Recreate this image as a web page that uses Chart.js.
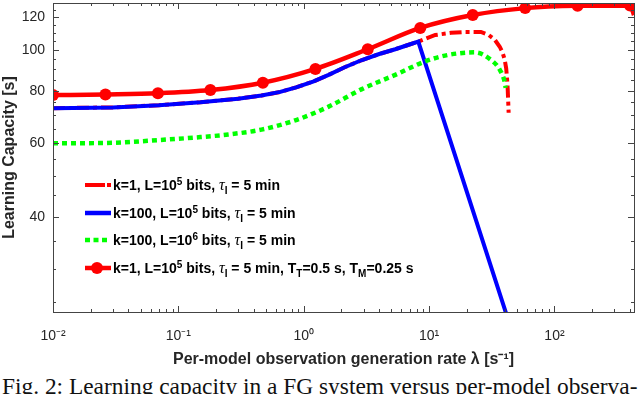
<!DOCTYPE html>
<html>
<head>
<meta charset="utf-8">
<script src="https://cdn.jsdelivr.net/npm/chart.js@4.4.1/dist/chart.umd.min.js"></script>
<style>
  html, body { margin: 0; padding: 0; background: #fff; }
  #wrap { position: relative; width: 640px; height: 394px; overflow: hidden; font-family: 'Liberation Sans', Arial, sans-serif; }
  #box { position: absolute; left: 0; top: -3px; width: 640px; height: 375px; }
  .leg { position: absolute; left: 85px; height: 20px; display: flex; align-items: center; font-weight: bold; font-size: 14px; color: #000; white-space: nowrap; }
  .leg svg { flex: none; margin-right: 1px; }
  .leg sup { font-size: 10px; position: relative; top: -5px; vertical-align: baseline; }
  .leg sub { font-size: 10px; position: relative; top: 4px; vertical-align: baseline; }
  .leg .tau { font-family: 'Liberation Serif', serif; font-style: italic; font-weight: normal; font-size: 16px; }
  #caption { position: absolute; left: 2px; top: 375px; font-family: 'Liberation Serif', 'Times New Roman', serif; font-size: 23.4px; line-height: 23px; white-space: nowrap; color: #111; }
</style>
</head>
<body>
<div id="wrap">
  <div id="box"><canvas id="lineChart"></canvas></div>
  <div id="legend"></div>
  <div id="caption">Fig. 2: Learning capacity in a FG system versus per-model observa-</div>
</div>
<script>
// k=1, L=1e5 (dash-dot red)
const lambdaK1 = [0.01, 0.03, 0.07, 0.15, 0.3, 0.46, 0.65, 0.87, 1.2, 1.58, 2.1, 2.88, 4.0, 5.37, 6.6, 8.2, 11.2, 15, 19.3, 25.9, 30, 33.4, 36.6, 38.5, 40.1, 41.2, 41.8, 42.4, 43.1];
const capK1 = [72.7, 73.0, 73.9, 75.1, 76.6, 77.9, 79.5, 81.5, 84.2, 87.3, 90.9, 94.6, 97.9, 100.5, 102.6, 104.8, 108.7, 110.0, 110.5, 110.5, 108.6, 105.9, 101.9, 98.8, 94.9, 90.5, 86.0, 80.4, 70.9];

// k=100, L=1e5 (blue)
const lambdaK100 = [0.01, 0.03, 0.07, 0.15, 0.3, 0.46, 0.65, 0.87, 1.2, 1.58, 2.1, 2.88, 4.0, 5.37, 6.6, 8.2, 41, 45];
const capK100 = [72.7, 73.0, 73.9, 75.1, 76.6, 77.9, 79.5, 81.5, 84.2, 87.3, 90.9, 94.6, 97.9, 100.5, 102.6, 104.8, 23.6, 21.4];

// k=100, L=1e6 (green dotted)
const lambdaK100L6 = [0.01, 0.03, 0.07, 0.15, 0.25, 0.46, 0.87, 1.58, 2.88, 5.37, 9.3, 14.2, 23.2, 31, 36.6, 40.1, 40.8];
const capK100L6 = [59.9, 60.1, 61.0, 62.0, 62.9, 64.6, 68.1, 73.3, 80.6, 87.3, 94.0, 97.4, 98.8, 94.9, 89.8, 83.9, 81.3];

// k=1, L=1e5 with T_T, T_M (red with markers)
const lambdaTT = [0.01, 0.0262, 0.0687, 0.18, 0.472, 1.24, 3.24, 8.5, 22.3, 58.4, 153, 401, 431];
const capTT = [78.1, 78.4, 78.9, 80.3, 83.6, 90.2, 100.5, 113.0, 121.3, 126.0, 127.6, 127.8, 121.3];
const markerCount = 12;

const xMajorVals = [0.01, 0.1, 1, 10, 100];
const xTickLabels = ['10⁻²', '10⁻¹', '10⁰', '10¹', '10²'];
const yTickVals = [25, 30, 35, 40, 45, 50, 55, 60, 65, 70, 75, 80, 85, 90, 95, 100, 105, 110, 115, 120, 125];
const yTickLabels = [40, 60, 80, 100, 120];

const legendItems = [
  'k=1, L=10<sup>5</sup> bits, <span class="tau">τ</span><sub>I</sub> = 5 min',
  'k=100, L=10<sup>5</sup> bits, <span class="tau">τ</span><sub>I</sub> = 5 min',
  'k=100, L=10<sup>6</sup> bits, <span class="tau">τ</span><sub>I</sub> = 5 min',
  'k=1, L=10<sup>5</sup> bits, <span class="tau">τ</span><sub>I</sub> = 5 min, T<sub>T</sub>=0.5 s, T<sub>M</sub>=0.25 s'
];

const pts = (xs, ys) => xs.map((x, i) => ({ x: x, y: ys[i] }));

// inward ticks + box like matlab
const boxTicks = {
  id: 'boxTicks',
  afterDatasetsDraw(chart) {
    const { ctx, chartArea: a, scales } = chart;
    const x = scales.x, y = scales.y;
    ctx.save();
    ctx.strokeStyle = '#444';
    ctx.lineWidth = 1;
    ctx.beginPath();
    x.ticks.forEach(t => {
      const px = Math.round(x.getPixelForValue(t.value)) + 0.5;
      const len = t.major ? 6 : 3;
      ctx.moveTo(px, a.bottom); ctx.lineTo(px, a.bottom - len);
      ctx.moveTo(px, a.top); ctx.lineTo(px, a.top + len);
    });
    y.ticks.forEach(t => {
      const py = Math.round(y.getPixelForValue(t.value)) + 0.5;
      const len = t.major ? 6 : 3;
      ctx.moveTo(a.left, py); ctx.lineTo(a.left + len, py);
      ctx.moveTo(a.right, py); ctx.lineTo(a.right - len, py);
    });
    ctx.stroke();
    ctx.strokeRect(Math.round(a.left) + 0.5, Math.round(a.top) + 0.5, Math.round(a.right - a.left), Math.round(a.bottom - a.top));
    ctx.restore();
  }
};

const data = {
  datasets: [{
    label: 'k=1, L=10^5 bits, tau_I = 5 min',
    data: pts(lambdaK1, capK1),
    borderColor: '#ff0000',
    borderWidth: 4,
    borderDash: [12, 4, 4, 4],
    pointRadius: 0,
    order: 4
  }, {
    label: 'k=100, L=10^5 bits, tau_I = 5 min',
    data: pts(lambdaK100, capK100),
    borderColor: '#0000ff',
    borderWidth: 4,
    pointRadius: 0,
    order: 3
  }, {
    label: 'k=100, L=10^6 bits, tau_I = 5 min',
    data: pts(lambdaK100L6, capK100L6),
    borderColor: '#00ff00',
    borderWidth: 4.5,
    borderDash: [5, 4],
    cubicInterpolationMode: 'monotone',
    pointRadius: 0,
    order: 2
  }, {
    label: 'k=1, L=10^5 bits, tau_I = 5 min, T_T=0.5 s, T_M=0.25 s',
    data: pts(lambdaTT, capTT),
    borderColor: '#ff0000',
    backgroundColor: '#ff0000',
    borderWidth: 4.5,
    cubicInterpolationMode: 'monotone',
    pointRadius: ctx => ctx.dataIndex < markerCount ? 6 : 0,
    pointBorderWidth: 0,
    order: 1
  }]
};

const config = {
  type: 'line',
  data: data,
  options: {
    responsive: true,
    maintainAspectRatio: false,
    animation: false,
    layout: { padding: { left: 0, right: 4, top: 0, bottom: 0 } },
    plugins: { legend: { display: false }, tooltip: { enabled: false } },
    scales: {
      x: {
        type: 'logarithmic',
        min: 0.01,
        max: 431,
        grid: { display: false, drawTicks: false },
        border: { display: false },
        afterBuildTicks: s => {
          const ticks = [];
          xMajorVals.forEach(d => {
            ticks.push({ value: d, major: true });
            for (let m = 2; m <= 9; m++) if (m * d <= 431) ticks.push({ value: m * d, major: false });
          });
          s.ticks = ticks;
        },
        afterFit: s => { s.height = 60; s.paddingLeft = 0; s.paddingRight = 0; },
        ticks: {
          autoSkip: false, maxRotation: 0, padding: 16,
          color: '#262626',
          font: { family: 'Liberation Sans', size: 14 },
          callback: v => {
            const i = xMajorVals.indexOf(v);
            return i >= 0 ? xTickLabels[i] : '';
          }
        },
        title: {
          display: true,
          text: 'Per-model observation generation rate λ [s⁻¹]',
          color: '#262626',
          font: { family: 'Liberation Sans', size: 16, weight: 'bold' },
          padding: { top: 0, bottom: 3 }
        }
      },
      y: {
        type: 'logarithmic',
        min: 23.7,
        max: 129.6,
        grid: { display: false, drawTicks: false },
        border: { display: false },
        afterBuildTicks: s => {
          s.ticks = yTickVals.map(v => ({ value: v, major: yTickLabels.includes(v) }));
        },
        afterFit: s => { s.width = 53; s.paddingTop = 0; s.paddingBottom = 0; },
        ticks: {
          autoSkip: false, padding: 8,
          color: '#262626',
          font: { family: 'Liberation Sans', size: 14 },
          callback: v => yTickLabels.includes(v) ? String(v) : ''
        },
        title: {
          display: true,
          text: 'Learning Capacity [s]',
          color: '#262626',
          font: { family: 'Liberation Sans', size: 16, weight: 'bold' },
          padding: { top: 0, bottom: 0 }
        }
      }
    }
  },
  plugins: [boxTicks]
};

var myChart = new Chart(document.getElementById('lineChart'), config);

// legend with sup/sub text
const samples = [
  '<svg width="27" height="14"><line x1="0" y1="7" x2="20" y2="7" stroke="#f00" stroke-width="4"/><line x1="22" y1="7" x2="26" y2="7" stroke="#f00" stroke-width="4"/></svg>',
  '<svg width="27" height="14"><line x1="0" y1="7" x2="26" y2="7" stroke="#00f" stroke-width="4.5"/></svg>',
  '<svg width="27" height="14"><line x1="0" y1="7" x2="23" y2="7" stroke="#0f0" stroke-width="4.5" stroke-dasharray="5 3.5"/></svg>',
  '<svg width="27" height="14"><line x1="0" y1="7" x2="26" y2="7" stroke="#f00" stroke-width="4.5"/><circle cx="12" cy="7" r="6" fill="#f00"/></svg>'
];
const rowY = [185, 213, 240, 268];
const legEl = document.getElementById('legend');
legendItems.forEach((txt, i) => {
  const row = document.createElement('div');
  row.className = 'leg';
  row.style.top = (rowY[i] - 10) + 'px';
  row.innerHTML = samples[i] + '<span>' + txt + '</span>';
  legEl.appendChild(row);
});
</script>
</body>
</html>
